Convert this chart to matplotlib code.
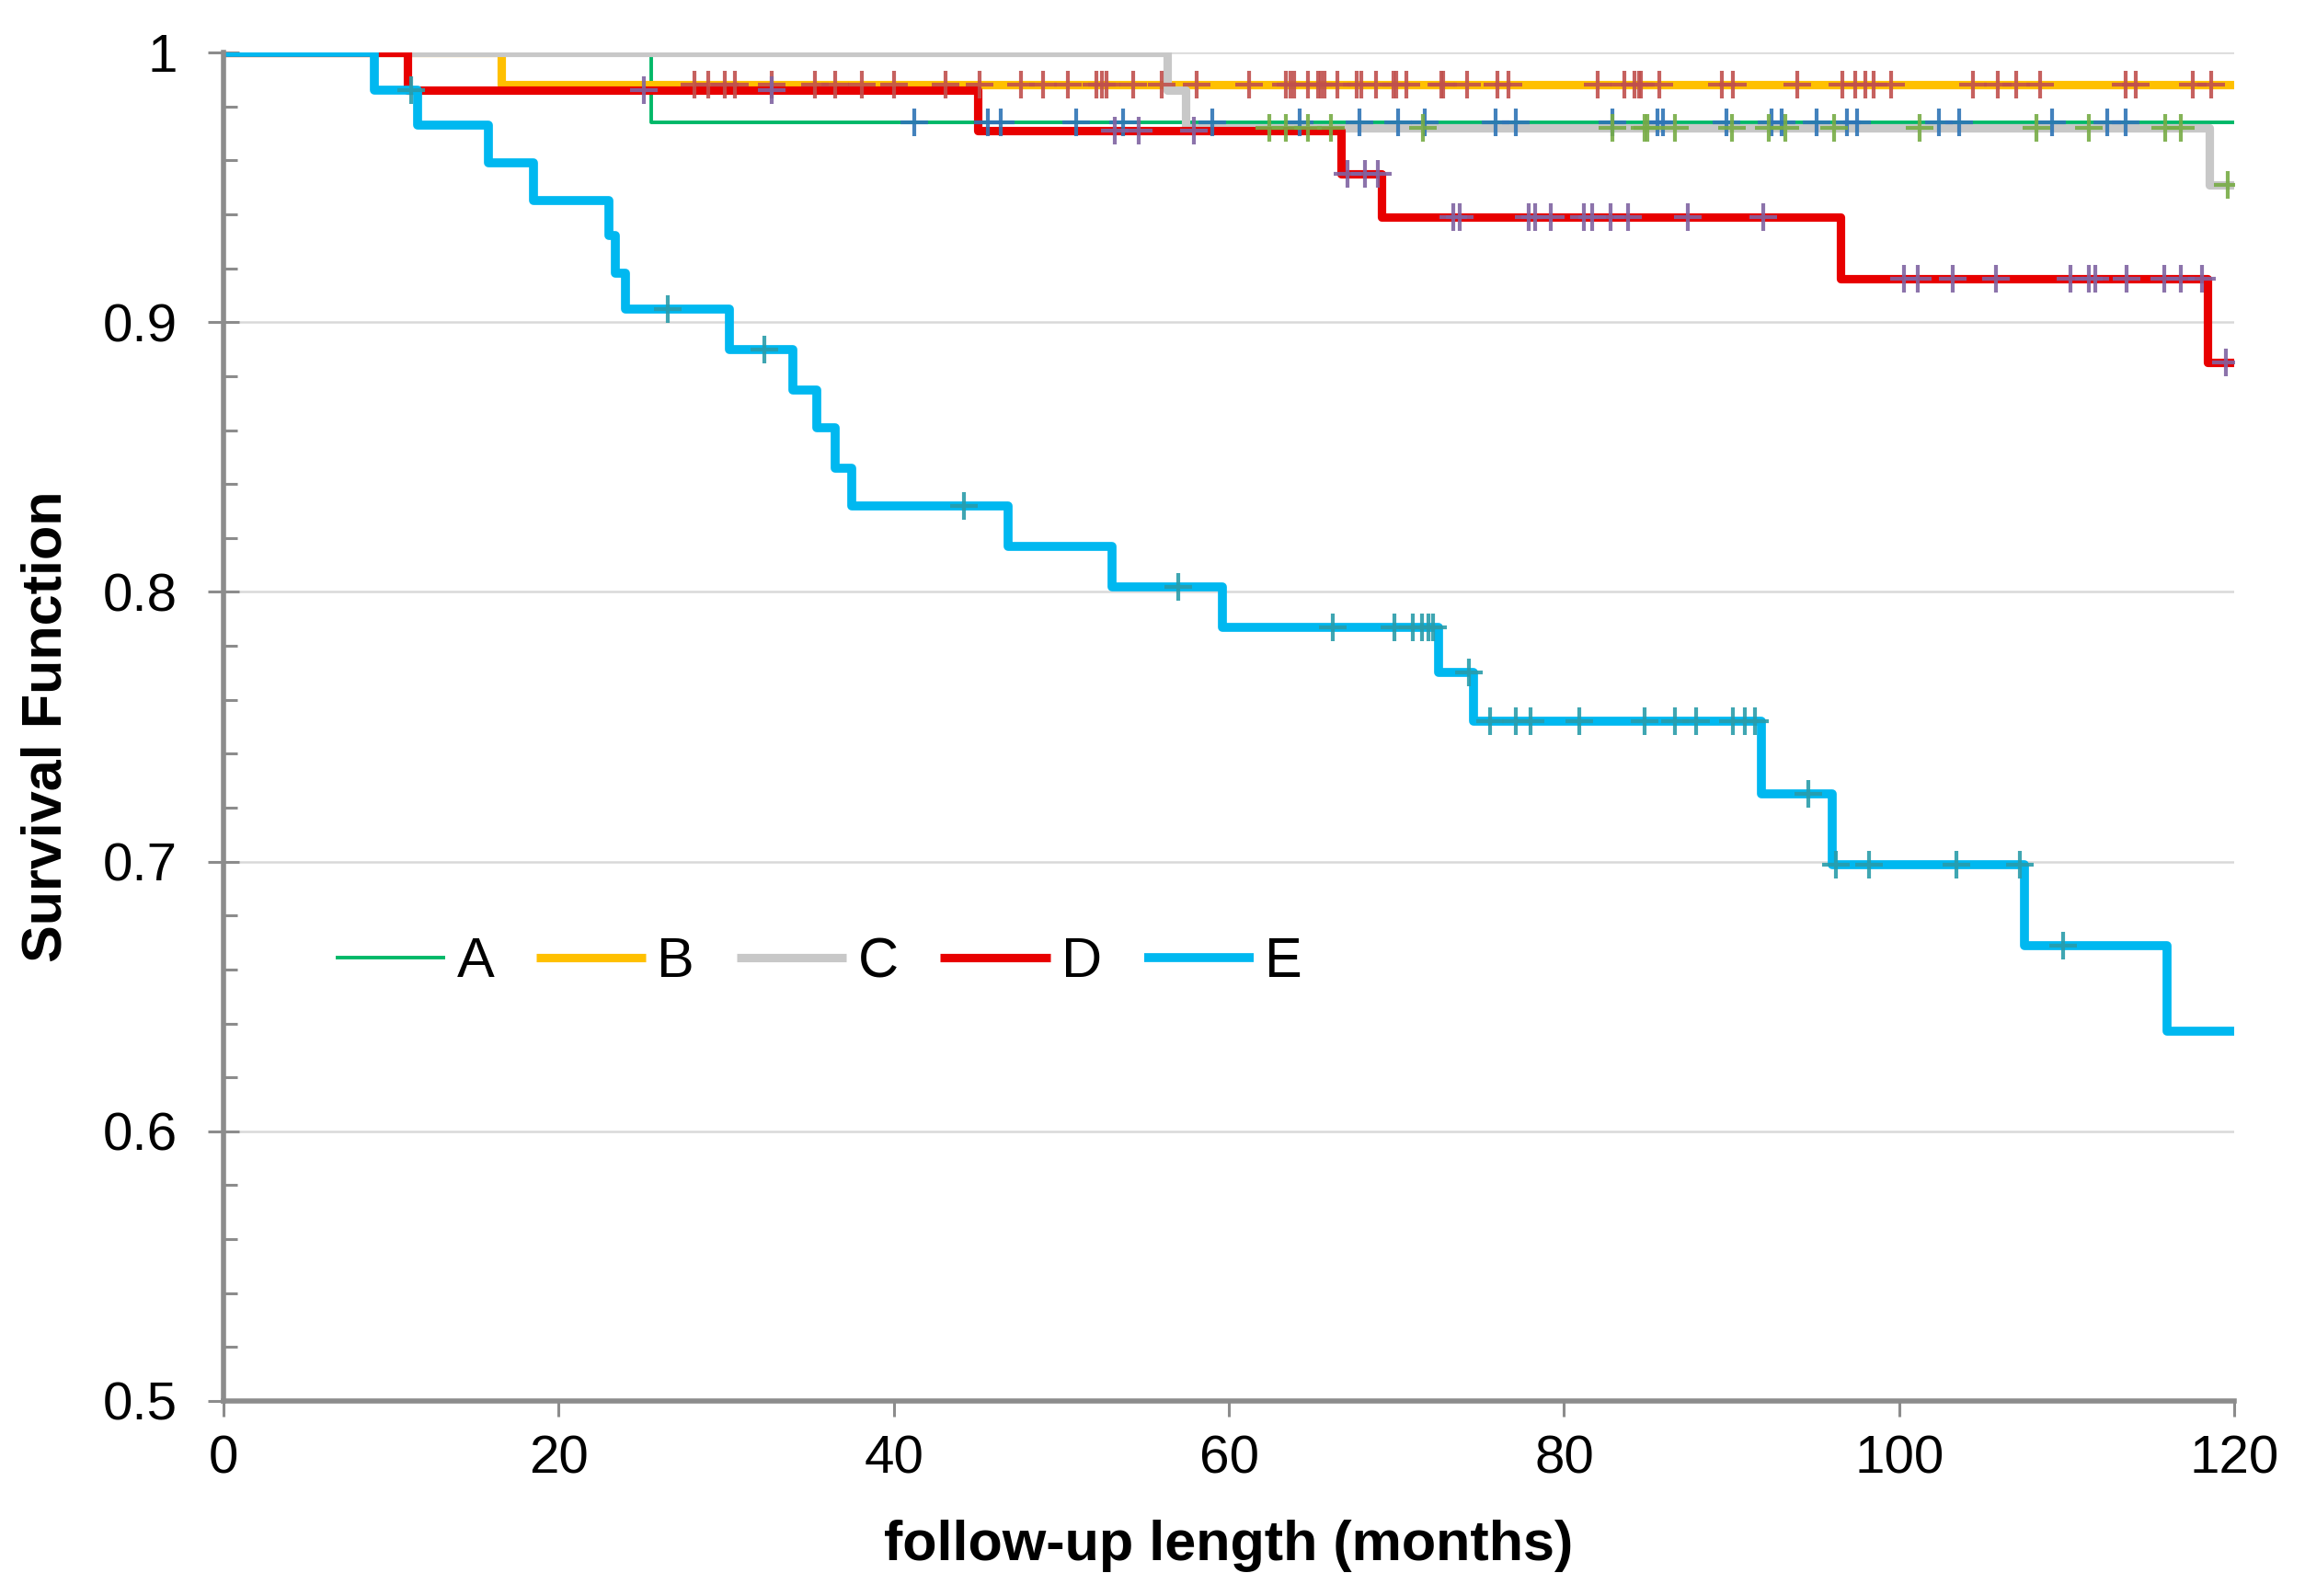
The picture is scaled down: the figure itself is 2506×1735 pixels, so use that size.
import numpy as np
import matplotlib
matplotlib.use('Agg')
import matplotlib.pyplot as plt

plt.rcParams['font.family'] = ['Liberation Sans', 'DejaVu Sans']

# Kaplan-Meier steps: (drop time in months, level after the drop)
a_times = [25.5]
a_surv = [0.974]
a_cens = [41.2, 45.6, 46.4, 50.9, 53.7, 59.0, 64.2, 67.8, 70.1, 71.7, 75.9, 77.1, 82.9,
          85.6, 85.9, 89.7, 92.4, 93.0, 95.1, 96.9, 97.5, 102.4, 103.6, 109.1, 112.4, 113.5]

b_times = [16.6]
b_surv = [0.988]
b_cens = [28.1, 28.9, 29.9, 30.5, 32.7, 35.3, 36.5, 38.1, 40.0, 43.1, 45.1, 47.6, 48.9,
          50.4, 52.1, 52.4, 52.7, 54.3, 56.0, 58.1, 61.2, 63.4, 63.7, 63.9, 64.7, 65.3,
          65.5, 65.7, 66.5, 67.6, 67.9, 68.8, 69.8, 70.0, 70.6, 72.7, 72.8, 74.2, 76.0,
          76.7, 82.0, 83.6, 84.2, 84.5, 84.6, 85.7, 89.4, 90.1, 93.9, 96.6, 97.4, 98.0,
          98.5, 99.5, 104.4, 105.9, 107.0, 108.4, 113.5, 114.1, 117.5, 118.6]

c_times = [56.3, 57.4, 118.5]
c_surv = [0.986, 0.972, 0.951]
c_cens = [62.4, 63.4, 64.7, 66.1, 71.6, 82.9, 84.8, 85.0, 86.6, 90.0, 92.2, 93.2, 96.1,
          101.2, 108.2, 111.3, 115.9, 116.8, 119.6]

d_times = [11.0, 45.0, 66.7, 69.1, 96.5, 118.4]
d_surv = [0.986, 0.971, 0.955, 0.939, 0.916, 0.885]
d_cens = [25.1, 32.7, 53.2, 54.6, 57.9, 67.1, 68.1, 68.9, 73.4, 73.8, 77.9, 78.3, 79.2,
          81.2, 81.7, 82.8, 83.8, 87.4, 91.9, 100.3, 101.1, 103.2, 105.8, 110.2, 111.3,
          111.7, 113.6, 115.8, 116.8, 118.1, 119.5]

e_times = [9.0, 11.6, 15.8, 18.5, 23.0, 23.4, 24.0, 30.2, 34.0, 35.4, 36.5, 37.5, 46.8,
           53.0, 59.6, 72.5, 74.6, 91.8, 96.0, 107.5, 116.0]
e_surv = [0.986, 0.973, 0.959, 0.945, 0.932, 0.918, 0.905, 0.890, 0.875, 0.861, 0.846,
          0.832, 0.817, 0.802, 0.787, 0.770, 0.752, 0.725, 0.699, 0.669, 0.637]
e_cens = [11.2, 26.5, 32.3, 44.2, 57.0, 66.2, 69.9, 71.0, 71.5, 71.9, 72.2, 74.3, 75.6,
          77.1, 78.0, 80.9, 84.8, 86.6, 87.9, 90.1, 90.8, 91.4, 94.6, 96.2, 98.2, 103.4,
          107.2, 109.8]

labels = ['A', 'B', 'C', 'D', 'E']
line_colors = ['#00b868', '#ffc000', '#c8c8c8', '#e80000', '#00b8f0']
line_widths = [1.4, 3.3, 3.3, 3.3, 3.5]
cens_colors = ['#2e75b6', '#c0504d', '#77ac45', '#8064a2', '#2a9caa']

x_ticks = [0, 20, 40, 60, 80, 100, 120]
y_ticks = [0.5, 0.6, 0.7, 0.8, 0.9, 1.0]
y_ticklabels = ['0.5', '0.6', '0.7', '0.8', '0.9', '1']

series = [(a_times, a_surv, a_cens), (b_times, b_surv, b_cens), (c_times, c_surv, c_cens),
          (d_times, d_surv, d_cens), (e_times, e_surv, e_cens)]


def level_at(times, surv, t):
    idx = np.searchsorted(times, t, side='right')
    levels = np.concatenate([[1.0], surv])
    return levels[idx]


fig = plt.figure(figsize=(12.53, 8.675), dpi=200)
ax = fig.add_axes([0.0970, 0.1222, 0.8723, 0.8449])

# lines first, then censor ticks on top
for (t, s, c), lab, col, lw in zip(series, labels, line_colors, line_widths):
    xs = [0] + list(t) + [120]
    ys = [1.0] + list(s) + [s[-1]]
    ax.step(xs, ys, where='post', color=col, lw=lw, label=lab,
            solid_joinstyle='round', solid_capstyle='butt', zorder=3)

for (t, s, c), col in zip(series, cens_colors):
    cy = level_at(np.array(t), np.array(s), np.array(c))
    ax.plot(c, cy, ls='none', marker='+', ms=11, mew=1.5, color=col, alpha=0.9, zorder=4)

ax.set_xlim(0, 120)
ax.set_ylim(0.5, 1.0)
ax.set_xticks(x_ticks)
ax.set_yticks(y_ticks)
ax.set_yticklabels(y_ticklabels)
ax.set_yticks(np.arange(0.52, 1.0, 0.02), minor=True)

ax.grid(axis='y', which='major', color='#d9d9d9', lw=0.9, zorder=0)
ax.set_axisbelow(True)
for side in ['top', 'right']:
    ax.spines[side].set_visible(False)
for side in ['left', 'bottom']:
    ax.spines[side].set_color('#8c8c8c')
    ax.spines[side].set_linewidth(2.0)
    ax.spines[side].set_zorder(5)

ax.tick_params(axis='x', which='major', direction='out', length=6, width=1.1,
               color='#8c8c8c', labelsize=21, pad=7)
ax.tick_params(axis='y', which='major', direction='inout', length=12, width=1.1,
               color='#8c8c8c', labelsize=21, pad=12)
ax.tick_params(axis='y', which='minor', direction='in', length=5.5, width=1.1,
               color='#8c8c8c')

ax.set_xlabel('follow-up length (months)', fontsize=22, fontweight='bold')
ax.set_ylabel('Survival Function', fontsize=22, fontweight='bold')
ax.xaxis.set_label_coords(0.5, -0.088)
ax.yaxis.set_label_coords(-0.075, 0.5)

ax.legend(loc='center left', bbox_to_anchor=(0.0558, 0.325), ncol=5, frameon=False,
          fontsize=22, handlelength=1.95, handletextpad=0.2, columnspacing=0.75,
          borderpad=0, borderaxespad=0)

fig.savefig('out.png', dpi=200)
